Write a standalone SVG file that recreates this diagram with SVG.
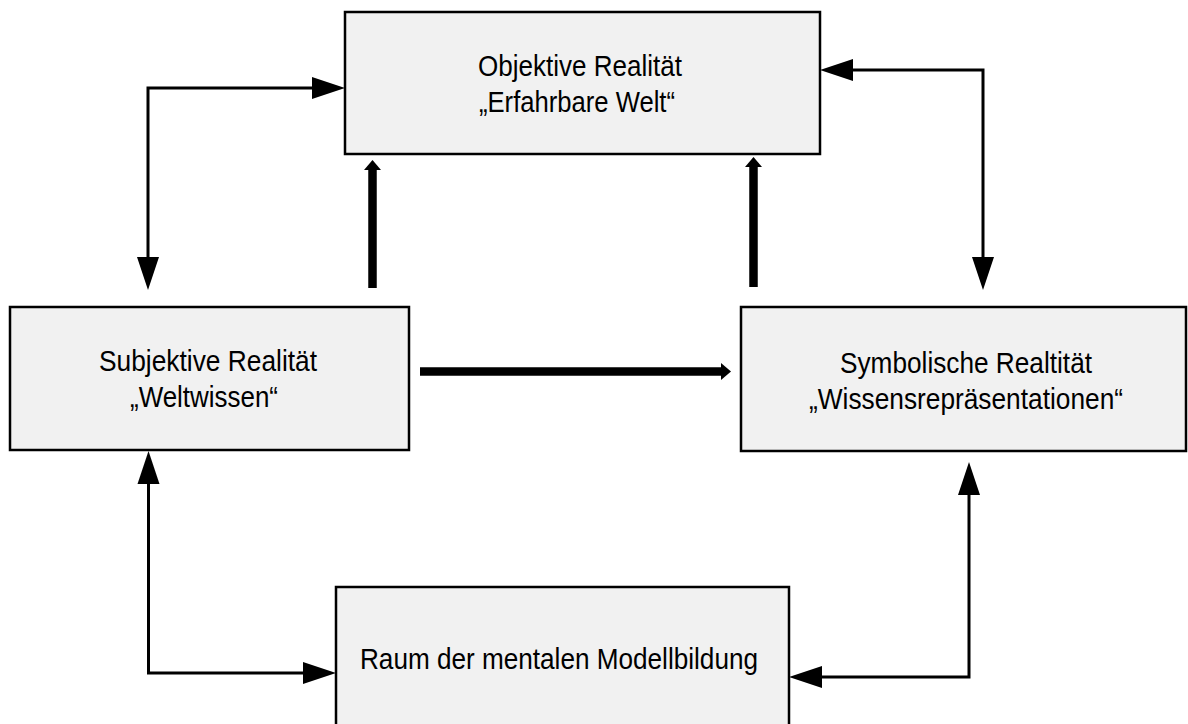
<svg xmlns="http://www.w3.org/2000/svg" width="1188" height="724" viewBox="0 0 1188 724">
  <defs>
    <style>
      .box { fill: #f1f1f1; stroke: #000; stroke-width: 2.5; }
      .lbl { font-family: "Liberation Sans", Arial, sans-serif; font-size: 29px; fill: #000; text-anchor: middle; }
      .thin { fill: none; stroke: #000; stroke-width: 3; stroke-linejoin: miter; }
      .thick { fill: none; stroke: #000; stroke-width: 8.5; }
    </style>
    <!-- large triangular head for the thin two-way links; drawn from its base -->
    <marker id="head" markerUnits="userSpaceOnUse" markerWidth="34" markerHeight="24" viewBox="0 -12 34 24" refX="0" refY="0" orient="auto-start-reverse" overflow="visible">
      <polygon points="0,-11 33,0 0,11" fill="#000"/>
    </marker>
    <!-- small head for the heavy one-way arrows -->
    <marker id="smallhead" markerUnits="userSpaceOnUse" markerWidth="11" markerHeight="18" viewBox="0 -9 11 18" refX="0" refY="0" orient="auto" overflow="visible">
      <polygon points="0,-8.5 10,0 0,8.5" fill="#000"/>
    </marker>
  </defs>

  <rect width="1188" height="724" fill="#fff"/>

  <g id="connectors">
    <!-- two-way links -->
    <path class="thin" d="M 312 88 H 148 V 257" marker-start="url(#head)" marker-end="url(#head)"/>
    <path class="thin" d="M 853 70 H 983 V 257" marker-start="url(#head)" marker-end="url(#head)"/>
    <path class="thin" d="M 148.5 484 V 673 H 303" marker-start="url(#head)" marker-end="url(#head)"/>
    <path class="thin" d="M 969 495 V 677 H 822" marker-start="url(#head)" marker-end="url(#head)"/>
    <!-- heavy one-way arrows -->
    <path class="thick" d="M 372.5 288 V 170" marker-end="url(#smallhead)"/>
    <path class="thick" d="M 753.5 287 V 167" marker-end="url(#smallhead)"/>
    <path class="thick" d="M 420 371.5 H 721" marker-end="url(#smallhead)"/>
  </g>

  <g id="objektive-realitaet">
    <rect class="box" x="345" y="12" width="475" height="142"/>
    <text class="lbl" x="580" y="76" textLength="204" lengthAdjust="spacingAndGlyphs">Objektive Realität</text>
    <text class="lbl" x="577" y="112" textLength="196" lengthAdjust="spacingAndGlyphs">„Erfahrbare Welt“</text>
  </g>

  <g id="subjektive-realitaet">
    <rect class="box" x="10" y="307" width="399" height="143"/>
    <text class="lbl" x="208" y="371" textLength="218" lengthAdjust="spacingAndGlyphs">Subjektive Realität</text>
    <text class="lbl" x="204" y="407" textLength="148" lengthAdjust="spacingAndGlyphs">„Weltwissen“</text>
  </g>

  <g id="symbolische-realitaet">
    <rect class="box" x="741" y="307" width="445" height="144"/>
    <text class="lbl" x="966" y="373" textLength="252" lengthAdjust="spacingAndGlyphs">Symbolische Realtität</text>
    <text class="lbl" x="966" y="409" textLength="314" lengthAdjust="spacingAndGlyphs">„Wissensrepräsentationen“</text>
  </g>

  <g id="mentale-modellbildung">
    <rect class="box" x="336" y="587" width="453" height="150"/>
    <text class="lbl" x="559" y="669" textLength="398" lengthAdjust="spacingAndGlyphs">Raum der mentalen Modellbildung</text>
  </g>
</svg>
